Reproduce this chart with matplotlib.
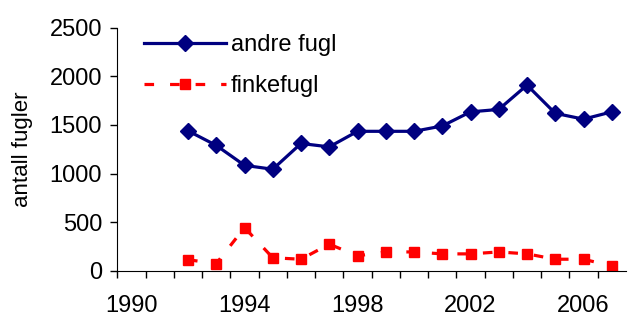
import matplotlib
matplotlib.use('Agg')
import matplotlib.pyplot as plt
import numpy as np

plt.rcParams['font.family'] = ['Liberation Sans', 'DejaVu Sans']

## Data
years = [1992, 1993, 1994, 1995, 1996, 1997, 1998, 1999, 2000, 2001, 2002, 2003, 2004, 2005, 2006, 2007]
andre_fugl = [1440, 1290, 1085, 1045, 1310, 1275, 1435, 1435, 1435, 1490, 1635, 1660, 1910, 1620, 1560, 1635]
finkefugl = [115, 75, 445, 135, 120, 275, 155, 195, 195, 175, 175, 195, 175, 120, 120, 50]
label_years = [1990, 1994, 1998, 2002, 2006]
y_ticks = [0, 500, 1000, 1500, 2000, 2500]

## Plot
fig = plt.figure(figsize=(6.38, 3.15), dpi=100)
ax = fig.add_axes([0.184, 0.14, 0.797, 0.772])

ax.plot(years, andre_fugl, color='#000080', lw=2.3, marker='D', markersize=8.5,
        markeredgewidth=1, label='andre fugl')
ax.plot(years, finkefugl, color='#FF0000', lw=2.3, ls=(0, (3, 5)), marker='s', markersize=7,
        markeredgewidth=1, label='finkefugl')

ax.set_xlim(1989.5, 2007.5)
ax.set_ylim(0, 2500)
ax.set_yticks(y_ticks)
# tick marks sit between the categories, labels at category centres
ax.set_xticks(np.arange(1989.5, 2007.0, 1.0))
ax.set_xticklabels([])
ax.set_xticks(label_years, minor=True)
ax.set_xticklabels([str(y) for y in label_years], minor=True)
ax.tick_params(axis='x', which='minor', length=0, labelsize=17, pad=17)
ax.tick_params(axis='x', which='major', direction='out', length=5, width=1)
ax.tick_params(axis='y', direction='out', length=5, width=1, labelsize=17, pad=6)

ax.spines['top'].set_visible(False)
ax.spines['right'].set_visible(False)
ax.set_ylabel('antall fugler', fontsize=16)
ax.yaxis.set_label_coords(-0.166, 0.5)

ax.legend(loc='upper left', frameon=False, fontsize=17, handlelength=3.5,
          bbox_to_anchor=(0.01, 1.06), labelspacing=0.8, handletextpad=0.2)

fig.savefig('out.png', dpi=100)
